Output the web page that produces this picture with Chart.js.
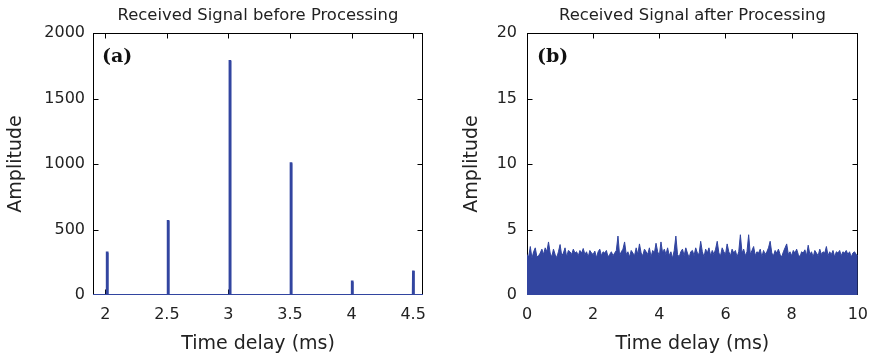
<!DOCTYPE html>
<html>
<head>
<meta charset="utf-8">
<script src="https://cdn.jsdelivr.net/npm/chart.js@4.4.1/dist/chart.umd.min.js"></script>
<style>
  html, body { margin: 0; padding: 0; background: #fff; }
  .panel { position: absolute; top: 0; height: 359px; }
  #wrapA { left: 0; width: 440px; }
  #wrapB { left: 440px; width: 438px; }
</style>
</head>
<body>
<div class="panel" id="wrapA"><canvas id="chartA" width="440" height="359"></canvas></div>
<div class="panel" id="wrapB"><canvas id="chartB" width="438" height="359"></canvas></div>
<script>
// ==============================
// DATA
// ==============================
// (a) echoes before processing: spike time (ms) and peak amplitude
const spikeTimes = [2.015, 2.51, 3.012, 3.508, 4.005, 4.502];
const spikeAmps = [323, 565, 1786, 1005, 102, 186];
const xTicksA = [2, 2.5, 3, 3.5, 4, 4.5];
const yTicksA = [0, 500, 1000, 1500, 2000];

// (b) residual after processing: envelope every 0.05 ms from 0 to 10 ms
const noiseStep = 0.05;
const noiseAmps = [
  3.1, 2.9, 3.7, 2.8, 3.3, 3.6, 2.9, 3.0, 3.2, 3.5,
  3.1, 3.6, 3.3, 4.05, 3.2, 2.9, 3.5, 3.1, 2.85, 3.3,
  3.85, 3.0, 3.2, 3.6, 2.9, 3.4, 3.3, 3.1, 3.5, 3.2,
  3.3, 3.0, 3.4, 3.2, 3.55, 3.1, 3.3, 2.9, 3.4, 3.2,
  3.1, 3.35, 2.85, 3.3, 3.5, 3.0, 3.3, 3.2, 3.4, 2.9,
  3.1, 3.3, 3.0, 3.2, 3.4, 4.5, 3.0, 3.3, 3.5, 4.05,
  3.1, 3.3, 2.9, 3.4, 3.2, 3.0, 3.6, 3.1, 3.9, 3.2,
  3.0, 3.5, 3.3, 3.1, 3.6, 2.9, 3.4, 3.2, 3.95, 3.3,
  3.0, 4.05, 3.2, 3.5, 3.1, 3.6, 3.0, 3.3, 2.8, 3.4,
  4.5, 3.1, 2.9, 3.3, 3.5, 3.0, 3.6, 3.2, 2.85, 3.3,
  3.4, 3.0, 3.6, 3.2, 3.1, 4.1, 3.3, 2.9, 3.5, 3.2,
  3.6, 3.0, 3.4, 3.1, 3.5, 4.1, 3.2, 3.0, 3.6, 3.3,
  3.1, 3.9, 3.3, 3.0, 3.5, 3.2, 3.4, 2.9, 3.3, 4.6,
  3.2, 3.5, 3.0, 3.3, 4.6, 3.1, 3.4, 3.7, 3.0, 3.3,
  3.2, 3.5, 2.9, 3.4, 3.1, 3.3, 3.6, 4.1, 3.2, 3.0,
  3.4, 3.2, 3.5, 3.1, 2.9, 3.3, 3.6, 3.9, 3.1, 3.3,
  3.0, 3.4, 3.2, 3.5, 3.1, 2.9, 3.3, 3.2, 3.45, 3.0,
  3.8, 3.1, 3.3, 2.9, 3.4, 3.2, 3.0, 3.5, 3.1, 3.3,
  3.2, 3.7, 3.0, 3.3, 3.1, 3.4, 2.9, 3.3, 3.2, 3.4,
  3.0, 3.3, 3.2, 3.4, 3.1, 3.3, 2.9, 3.2, 3.3, 3.1,
  3.0
];
const xTicksB = [0, 2, 4, 6, 8, 10];
const yTicksB = [0, 5, 10, 15, 20];

const titles = ["Received Signal before Processing", "Received Signal after Processing"];
const panelLabels = ["(a)", "(b)"];
const xLabel = "Time delay (ms)";
const yLabel = "Amplitude";

// ==============================
// STYLE
// ==============================
const BLUE = "#3245a0";
const TEXT = "#222";
const FONT = "DejaVu Sans";

// ==============================
// PLUGIN: MATLAB-like box, inward ticks, title over plot, panel tag
// ==============================
const framePlugin = {
  id: "frame",
  beforeDatasetsDraw(chart, args, opts) {
    const { ctx, chartArea: a, scales: { x, y } } = chart;
    const L = Math.round(a.left) + 0.5, R = Math.round(a.right) - 0.5;
    const T = Math.round(a.top) + 0.5, B = Math.round(a.bottom) - 0.5;
    ctx.save();
    ctx.strokeStyle = "#000";
    ctx.lineWidth = 1;
    ctx.strokeRect(L, T, R - L, B - T);
    ctx.beginPath();
    x.ticks.forEach(t => {
      const px = Math.round(x.getPixelForValue(t.value)) + 0.5;
      if (px < L + 2 || px > R - 2) return;
      ctx.moveTo(px, B); ctx.lineTo(px, B - 5);
      ctx.moveTo(px, T); ctx.lineTo(px, T + 5);
    });
    y.ticks.forEach(t => {
      const py = Math.round(y.getPixelForValue(t.value)) + 0.5;
      if (py < T + 2 || py > B - 2) return;
      ctx.moveTo(L, py); ctx.lineTo(L + 5, py);
      ctx.moveTo(R, py); ctx.lineTo(R - 5, py);
    });
    ctx.stroke();
    ctx.restore();
  },
  afterDraw(chart, args, opts) {
    const { ctx, chartArea: a } = chart;
    ctx.save();
    ctx.fillStyle = TEXT;
    ctx.font = "16.4px '" + FONT + "'";
    ctx.textBaseline = "middle";
    ctx.textAlign = "center";
    ctx.fillText(opts.title, (a.left + a.right) / 2, 15.5);
    ctx.fillStyle = "#111";
    ctx.font = "bold 19px 'DejaVu Serif'";
    ctx.textAlign = "left";
    ctx.fillText(opts.tag, a.left + opts.tagDx, a.top + 24);
    ctx.restore();
  }
};

// ==============================
// BUILD ONE PANEL
// ==============================
function makePanel(canvasId, cfg) {
  return new Chart(document.getElementById(canvasId), {
    type: "line",
    data: { datasets: [cfg.dataset] },
    options: {
      responsive: false,
      animation: false,
      layout: { padding: { left: 0, right: cfg.padRight, top: 33, bottom: 0 } },
      plugins: {
        legend: { display: false },
        tooltip: { enabled: false },
        title: { display: false },
        frame: { tag: cfg.tag, tagDx: cfg.tagDx, title: cfg.title }
      },
      scales: {
        x: {
          type: "linear",
          min: cfg.xMin,
          max: cfg.xMax,
          afterBuildTicks: s => { s.ticks = cfg.xTicks.map(v => ({ value: v })); },
          afterFit: s => { s.height = 64; },
          grid: { display: false, drawTicks: false },
          border: { display: false },
          ticks: {
            color: TEXT, padding: 10, maxRotation: 0,
            font: { family: FONT, size: 16 },
            callback: v => String(v)
          },
          title: {
            display: true, text: xLabel, color: TEXT,
            font: { family: FONT, size: 19 },
            padding: { top: 0, bottom: 3.4 }
          }
        },
        y: {
          min: cfg.yMin,
          max: cfg.yMax,
          afterBuildTicks: s => { s.ticks = cfg.yTicks.map(v => ({ value: v })); },
          afterFit: s => { s.width = cfg.yWidth; },
          grid: { display: false, drawTicks: false },
          border: { display: false },
          ticks: {
            color: TEXT, padding: cfg.yTickPad,
            font: { family: FONT, size: 16 },
            callback: v => String(v)
          },
          title: {
            display: true, text: yLabel, color: TEXT,
            font: { family: FONT, size: 19 },
            padding: { top: cfg.yTitlePad, bottom: 0 }
          }
        }
      }
    },
    plugins: [framePlugin]
  });
}

// ==============================
// PANEL (a)
// ==============================
const xMinA = 1.9, xMaxA = 4.58;
const spikeLine = [{ x: xMinA, y: 0 }];
spikeTimes.forEach((t, i) => {
  spikeLine.push({ x: t - 0.004, y: 0 });
  spikeLine.push({ x: t - 0.002, y: spikeAmps[i] });
  spikeLine.push({ x: t + 0.002, y: spikeAmps[i] });
  spikeLine.push({ x: t + 0.004, y: 0 });
});
spikeLine.push({ x: xMaxA, y: 0 });

makePanel("chartA", {
  title: titles[0],
  tag: panelLabels[0],
  tagDx: 9,
  padRight: 17,
  yWidth: 93,
  yTickPad: 8,
  yTitlePad: 5,
  xMin: xMinA, xMax: xMaxA, xTicks: xTicksA,
  yMin: 0, yMax: 2000, yTicks: yTicksA,
  dataset: {
    data: spikeLine,
    borderColor: BLUE,
    borderWidth: 2.2,
    pointRadius: 0,
    tension: 0
  }
});

// ==============================
// PANEL (b)
// ==============================
const noiseLine = noiseAmps.map((v, i) => ({ x: i * noiseStep, y: v }));

makePanel("chartB", {
  title: titles[1],
  tag: panelLabels[1],
  tagDx: 10,
  padRight: 16,
  yWidth: 87,
  yTickPad: 10,
  yTitlePad: 20.6,
  xMin: 0, xMax: 10, xTicks: xTicksB,
  yMin: 0, yMax: 20, yTicks: yTicksB,
  dataset: {
    data: noiseLine,
    borderColor: BLUE,
    backgroundColor: BLUE,
    borderWidth: 1,
    fill: "origin",
    pointRadius: 0,
    tension: 0
  }
});
</script>
</body>
</html>
